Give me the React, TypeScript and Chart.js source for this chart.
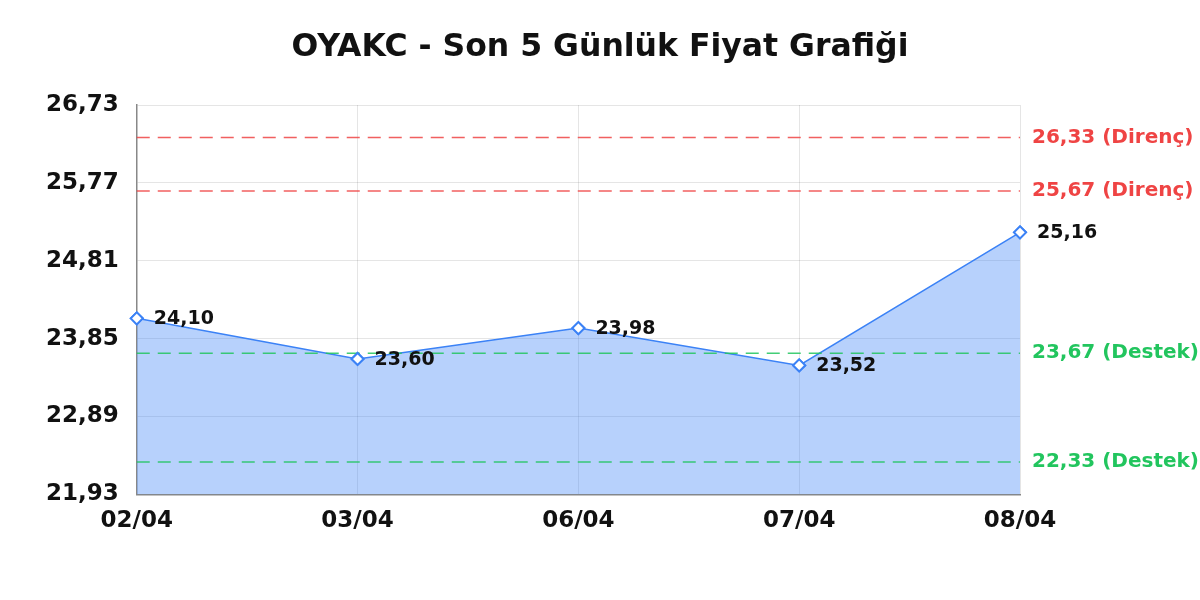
import Chart from 'chart.js/auto';
import React, { useEffect, useRef } from 'react';

const title = 'OYAKC - Son 5 Günlük Fiyat Grafiği';
const dates = ['02/04', '03/04', '06/04', '07/04', '08/04'];
const prices = [24.1, 23.6, 23.98, 23.52, 25.16];
const yTicks = [21.93, 22.89, 23.85, 24.81, 25.77, 26.73];
const resistance = [26.33, 25.67];
const support = [23.67, 22.33];

const FONT = "'DejaVu Sans', sans-serif";
const BLUE = '#3b82f6';
const RED = '#ef4444';
const GREEN = '#22c55e';

const fmt = (v: number) => v.toFixed(2).replace('.', ',');

const levelsPlugin = {
  id: 'levels',
  afterDatasetsDraw(chart: any) {
    const { ctx, chartArea, scales, width } = chart;
    const y = scales.y;

    // support / resistance lines on top of the area
    const draw = (vals: number[], color: string) => {
      vals.forEach((v) => {
        const py = y.getPixelForValue(v);
        ctx.save();
        ctx.strokeStyle = color;
        ctx.globalAlpha = 0.85;
        ctx.lineWidth = 1.6;
        ctx.setLineDash([13, 8]);
        ctx.beginPath();
        ctx.moveTo(chartArea.left, py);
        ctx.lineTo(chartArea.right, py);
        ctx.stroke();
        ctx.restore();
      });
    };
    draw(resistance, RED);
    draw(support, GREEN);

    ctx.save();
    // title, centred on the whole canvas
    ctx.fillStyle = '#111';
    ctx.font = `bold 31.5px ${FONT}`;
    ctx.textAlign = 'center';
    ctx.textBaseline = 'middle';
    ctx.fillText(title, width / 2, 48);

    ctx.font = `bold 20px ${FONT}`;
    ctx.textAlign = 'left';
    resistance.forEach((v) => {
      ctx.fillStyle = RED;
      ctx.fillText(`${fmt(v)} (Direnç)`, chartArea.right + 12, y.getPixelForValue(v));
    });
    support.forEach((v) => {
      ctx.fillStyle = GREEN;
      ctx.fillText(`${fmt(v)} (Destek)`, chartArea.right + 12, y.getPixelForValue(v));
    });

    // redraw points over the dashed lines, then value labels
    const meta = chart.getDatasetMeta(0);
    meta.data.forEach((pt: any) => pt.draw(ctx, chartArea));
    ctx.font = `bold 19px ${FONT}`;
    ctx.fillStyle = '#111';
    meta.data.forEach((pt: any, i: number) => {
      ctx.fillText(fmt(prices[i]), pt.x + 17, pt.y + 1);
    });
    ctx.restore();
  },
};

const App: React.FC = () => {
  const chartRef = useRef<HTMLCanvasElement>(null);

  useEffect(() => {
    document.body.style.margin = '0';
    const ctx = chartRef.current?.getContext('2d');
    if (!ctx) return;

    const chart = new Chart(ctx, {
      type: 'line',
      data: {
        labels: dates,
        datasets: [
          {
            data: prices,
            borderColor: BLUE,
            borderWidth: 1.5,
            backgroundColor: 'rgba(59, 130, 246, 0.37)',
            fill: 'start',
            tension: 0,
            pointStyle: 'rectRot',
            pointRadius: 6,
            pointBorderWidth: 2,
            pointBackgroundColor: '#ffffff',
            pointBorderColor: BLUE,
          },
        ],
      },
      options: {
        animation: false,
        responsive: true,
        maintainAspectRatio: false,
        layout: { padding: { left: 28, right: 180, top: 105, bottom: 52 } },
        plugins: {
          legend: { display: false },
          tooltip: { enabled: false },
          title: { display: false },
        },
        scales: {
          x: {
            offset: false,
            grid: { color: 'rgba(0,0,0,0.1)', drawTicks: false },
            border: { color: '#888', width: 1.5 },
            ticks: {
              color: '#111',
              padding: 13,
              maxRotation: 0,
              font: { family: FONT, size: 23, weight: 'bold' },
            },
          },
          y: {
            min: yTicks[0],
            max: yTicks[yTicks.length - 1],
            afterBuildTicks: (axis: any) => {
              axis.ticks = yTicks.map((v) => ({ value: v }));
            },
            grid: { color: 'rgba(0,0,0,0.1)', drawTicks: false },
            border: { color: '#888', width: 1.5 },
            ticks: {
              color: '#111',
              padding: 18,
              font: { family: FONT, size: 23, weight: 'bold' },
              callback: (v: any) => fmt(Number(v)),
            },
          },
        },
      },
      plugins: [levelsPlugin],
    });

    return () => {
      chart.destroy();
    };
  }, []);

  return (
    <div style={{ width: 1200, height: 600, position: 'relative' }}>
      <canvas ref={chartRef} />
    </div>
  );
};

export default App;
